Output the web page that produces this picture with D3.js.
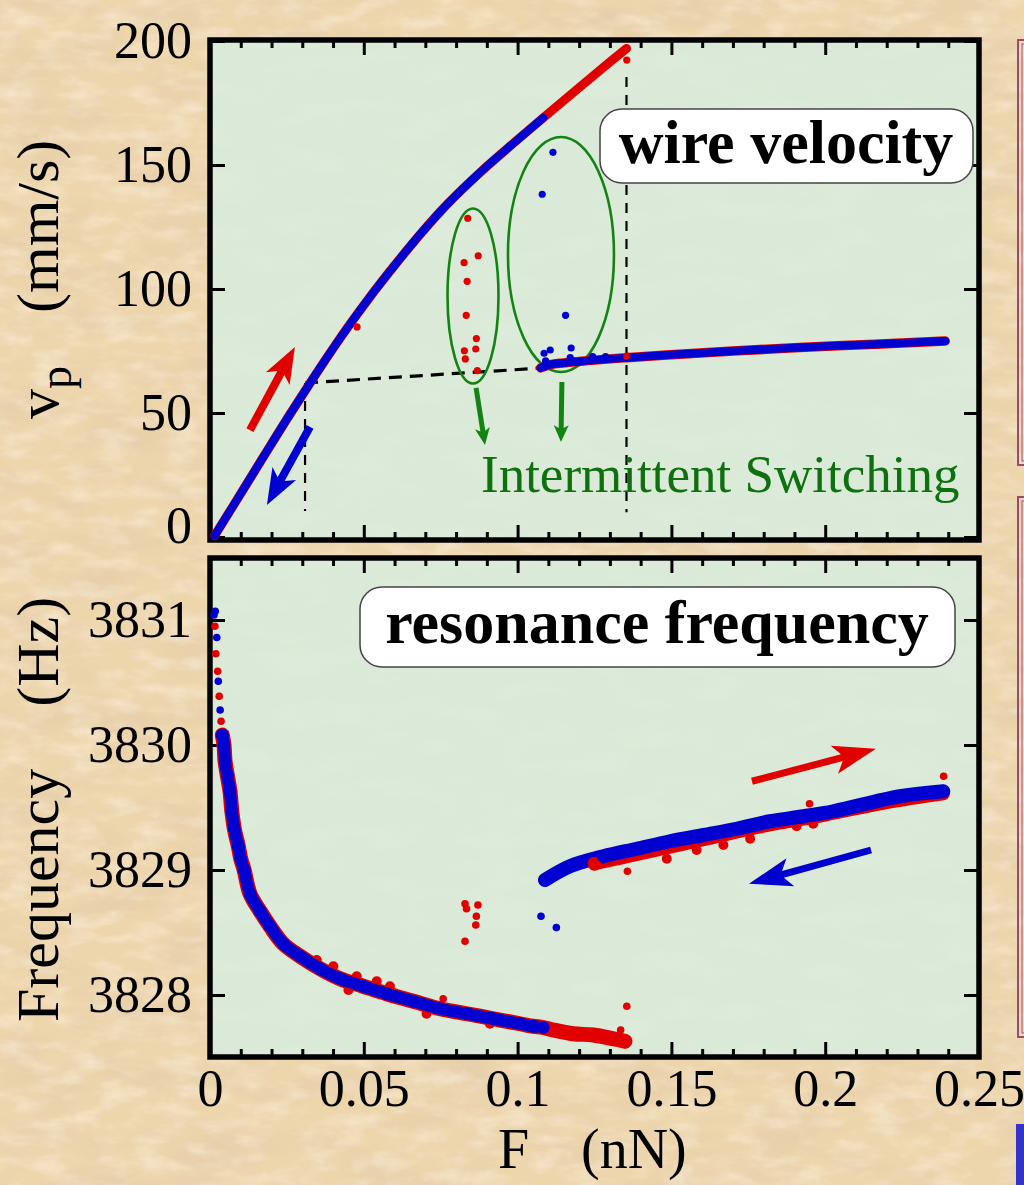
<!DOCTYPE html>
<html>
<head>
<meta charset="utf-8">
<script src="https://cdn.jsdelivr.net/npm/d3@7"></script>
<style>
  html, body { margin: 0; padding: 0; background: #efd9b1; }
  svg { display: block; font-family: 'Liberation Serif', 'Times New Roman', serif; }
</style>
</head>
<body>
<svg id="chart" width="1024" height="1185"></svg>
<script>
var forceMajor = [0, 0.05, 0.1, 0.15, 0.2, 0.25];
var forceLabels = ['0', '0.05', '0.1', '0.15', '0.2', '0.25'];
var forceMinor = [0.01, 0.02, 0.03, 0.04, 0.06, 0.07, 0.08, 0.09, 0.11, 0.12, 0.13, 0.14,
  0.16, 0.17, 0.18, 0.19, 0.21, 0.22, 0.23, 0.24];
var velocityTicks = [0, 50, 100, 150, 200];
var freqTicks = [3828, 3829, 3830, 3831];

// wire velocity, [F (nN), v (mm/s)]
var velUpRed = [[0.0015, 0.5], [0.0075, 12.5], [0.0172, 32.0], [0.026, 49.5], [0.0325, 62.0],
  [0.04, 76.0], [0.0455, 85.8], [0.052, 96.8], [0.06, 109.5], [0.0692, 123.3], [0.0769, 133.9],
  [0.0878, 147.0], [0.1, 160.2], [0.1083, 169.0], [0.12, 181.2], [0.13, 191.5], [0.1354, 197.0]];
var velDownBlue = [[0.0015, 0.5], [0.0075, 12.5], [0.0172, 32.0], [0.026, 49.5], [0.0325, 62.0],
  [0.04, 76.0], [0.0455, 85.8], [0.052, 96.8], [0.06, 109.5], [0.0692, 123.3], [0.0769, 133.9],
  [0.0878, 147.0], [0.1, 160.2], [0.1083, 169.0]];
var velLower = [[0.1075, 68.2], [0.11, 69.3], [0.115, 70.2], [0.12, 70.8], [0.1354, 72.3],
  [0.15, 73.5], [0.17, 75], [0.19, 76.3], [0.21, 77.4], [0.225, 78.2], [0.239, 79]];
var velRedDots = [[0.0838, 128.5], [0.0872, 113.4], [0.0826, 110.6], [0.0836, 103.1], [0.0833, 89.4],
  [0.0866, 80.0], [0.0864, 75.8], [0.0827, 75.1], [0.0830, 71.8], [0.0869, 67.1], [0.0478, 84.7],
  [0.1355, 73.0], [0.1355, 192.3]];
var velBlueDots = [[0.1115, 155.1], [0.1080, 138.2], [0.1156, 89.4], [0.1086, 74.1], [0.1106, 75.4],
  [0.1174, 76.2], [0.1171, 72.3], [0.1091, 71.0], [0.1244, 72.7], [0.1286, 72.7]];

// resonance frequency, [F (nN), f (Hz)]
var freqDecayBand = [[0.0040, 3830.08], [0.00455, 3830.0], [0.0049, 3829.87], [0.0056, 3829.76],
  [0.0065, 3829.63], [0.0071, 3829.47], [0.0079, 3829.33], [0.0092, 3829.19], [0.0100, 3829.09],
  [0.0111, 3829.0], [0.0130, 3828.81], [0.0163, 3828.67], [0.0195, 3828.55], [0.0238, 3828.41],
  [0.0293, 3828.31], [0.0358, 3828.21], [0.0423, 3828.13], [0.0498, 3828.07], [0.0574, 3828.01],
  [0.0661, 3827.95], [0.0748, 3827.89], [0.0835, 3827.85], [0.0921, 3827.81], [0.1008, 3827.77],
  [0.1051, 3827.75], [0.1083, 3827.74]];
var freqRedTail = [[0.1083, 3827.74], [0.1116, 3827.72], [0.1181, 3827.69], [0.1246, 3827.68],
  [0.1311, 3827.65], [0.1349, 3827.63]];
var freqBlueUpper = [[0.1089, 3828.92], [0.1170, 3829.03], [0.1279, 3829.11], [0.1387, 3829.17],
  [0.1495, 3829.23], [0.1604, 3829.28], [0.1712, 3829.33], [0.1821, 3829.39], [0.1929, 3829.43],
  [0.2026, 3829.47], [0.2243, 3829.59], [0.2384, 3829.63]];
var freqRedUpper = [[0.125, 3829.05], [0.14, 3829.13], [0.16, 3829.24], [0.18, 3829.35],
  [0.2, 3829.44], [0.22, 3829.54], [0.2384, 3829.61]];
var freqRedFringe = [[0.0347, 3828.28], [0.0401, 3828.23], [0.0477, 3828.15], [0.0542, 3828.11],
  [0.0585, 3828.07], [0.045, 3828.04], [0.0704, 3827.85], [0.091, 3827.77], [0.1485, 3829.09],
  [0.1582, 3829.16], [0.1669, 3829.2], [0.1756, 3829.25], [0.1907, 3829.35], [0.1961, 3829.37]];
var freqRedDots = [[0.0016, 3830.95], [0.0019, 3830.73], [0.0025, 3830.59], [0.0030, 3830.39],
  [0.0036, 3830.19], [0.0829, 3828.73], [0.0834, 3828.69], [0.0871, 3828.72], [0.0866, 3828.63],
  [0.0864, 3828.56], [0.0829, 3828.43], [0.1355, 3827.91], [0.1357, 3828.99], [0.2385, 3829.75],
  [0.1949, 3829.53], [0.0758, 3827.97], [0.1335, 3827.72]];
var freqBlueDots = [[0.0017, 3831.07], [0.0013, 3831.04], [0.0022, 3830.86], [0.0027, 3830.51],
  [0.0033, 3830.28], [0.1076, 3828.63], [0.1126, 3828.54]];

var svg = d3.select('#chart'),
  W = 1024,
  H = 1185,
  red = '#e00000',
  blue = '#0000d0',
  green = '#138413',
  x = d3.scaleLinear().domain([0, 0.25]).range([210, 979]),
  yV = d3.scaleLinear().domain([0, 200]).range([537, 41]),
  yF = d3.scaleLinear().domain([3827.5, 3831.5]).range([1057.5, 557.5]),
  pTop = {y0: 40, y1: 540},
  pBot = {y0: 558, y1: 1057};

var defs = svg.append('defs');

function noiseFilter(id, freq, seed, rgb, a, b) {
  var f = defs.append('filter').attr('id', id)
    .attr('x', 0).attr('y', 0).attr('width', '100%').attr('height', '100%');
  f.append('feTurbulence').attr('type', 'fractalNoise').attr('baseFrequency', freq)
    .attr('numOctaves', 4).attr('seed', seed);
  f.append('feColorMatrix').attr('type', 'matrix')
    .attr('values', '0 0 0 0 ' + rgb[0] + ' 0 0 0 0 ' + rgb[1] + ' 0 0 0 0 ' + rgb[2] + ' ' + a + ' 0 0 0 ' + b);
}
noiseFilter('paper', '0.012 0.03', 7, [0.74, 0.58, 0.40], 1.1, -0.45);
noiseFilter('paperLight', '0.03 0.07', 3, [1, 0.96, 0.86], 0.9, -0.38);
noiseFilter('mint', '0.015 0.04', 11, [0.80, 0.86, 0.78], 1.0, -0.45);

svg.append('rect').attr('width', W).attr('height', H).attr('fill', '#edd5ac');
svg.append('rect').attr('width', W).attr('height', H).attr('filter', 'url(#paper)');
svg.append('rect').attr('width', W).attr('height', H).attr('filter', 'url(#paperLight)');

// side panels of the slide
[[40, 465], [497, 1037]].forEach(function (p) {
  svg.append('rect').attr('x', 1018).attr('y', p[0]).attr('width', 30).attr('height', p[1] - p[0])
    .attr('fill', 'none').attr('stroke', '#9c4a74').attr('stroke-width', 2);
  svg.append('rect').attr('x', 1022).attr('y', p[0] + 4).attr('width', 30).attr('height', p[1] - p[0] - 8)
    .attr('fill', 'none').attr('stroke', '#b0648a').attr('stroke-width', 1.2);
});
svg.append('rect').attr('x', 1016).attr('y', 1124).attr('width', 10).attr('height', 61).attr('fill', '#3333cc');

// plot backgrounds
[pTop, pBot].forEach(function (p) {
  svg.append('rect').attr('x', x(0)).attr('y', p.y0).attr('width', x(0.25) - x(0)).attr('height', p.y1 - p.y0)
    .attr('fill', '#dbead8');
  svg.append('rect').attr('x', x(0)).attr('y', p.y0).attr('width', x(0.25) - x(0)).attr('height', p.y1 - p.y0)
    .attr('filter', 'url(#mint)').attr('opacity', 0.5);
});

function styleAxis(g) {
  g.select('.domain').remove();
  g.selectAll('.tick line').attr('stroke', '#000').attr('stroke-width', 3);
  g.selectAll('.tick text').attr('fill', '#000').attr('font-family', 'Liberation Serif')
    .attr('font-size', 52);
}

function frameTicks(p, yScale, yTicks, labels) {
  var gx = [['bottom', p.y1], ['top', p.y0]];
  gx.forEach(function (s) {
    var mk = s[0] === 'bottom' ? d3.axisBottom : d3.axisTop;
    svg.append('g').attr('transform', 'translate(0,' + s[1] + ')')
      .call(mk(x).tickValues(forceMinor).tickSize(-8).tickFormat('')).call(styleAxis);
    var major = svg.append('g').attr('transform', 'translate(0,' + s[1] + ')')
      .call(mk(x).tickValues(forceMajor).tickSize(-15).tickPadding(12)
        .tickFormat(function (d, i) { return (labels && s[0] === 'bottom') ? forceLabels[i] : ''; }))
      .call(styleAxis);
    major.selectAll('.tick text').attr('dy', '0.71em');
  });
  var left = svg.append('g').attr('transform', 'translate(' + x(0) + ',0)')
    .call(d3.axisLeft(yScale).tickValues(yTicks).tickSize(-15).tickPadding(18).tickFormat(d3.format('d')))
    .call(styleAxis);
  svg.append('g').attr('transform', 'translate(' + x(0.25) + ',0)')
    .call(d3.axisRight(yScale).tickValues(yTicks).tickSize(-15).tickFormat(''))
    .call(styleAxis);
  return left;
}

frameTicks(pTop, yV, velocityTicks, false)
  .selectAll('.tick text').filter(function (d) { return d === 0; }).attr('y', -11);
frameTicks(pBot, yF, freqTicks, true);

[pTop, pBot].forEach(function (p) {
  svg.append('rect').attr('x', x(0)).attr('y', p.y0).attr('width', x(0.25) - x(0)).attr('height', p.y1 - p.y0)
    .attr('fill', 'none').attr('stroke', '#000').attr('stroke-width', 5.5);
});

// ---- top panel: wire velocity
var gT = svg.append('g');
var lineV = d3.line().x(function (d) { return x(d[0]); }).y(function (d) { return yV(d[1]); })
  .curve(d3.curveMonotoneX);
var lineF = d3.line().x(function (d) { return x(d[0]); }).y(function (d) { return yF(d[1]); })
  .curve(d3.curveCatmullRom);

var dashLines = [
  {pts: [[0.0309, 62.1], [0.1073, 68.1]], w: 3.2, dash: '13,8'},
  {pts: [[0.0309, 62.1], [0.0309, 10.5]], w: 2.2, dash: '10,8'},
  {pts: [[0.1354, 185.5], [0.1354, 10]], w: 2.2, dash: '10,8'}
];
dashLines.forEach(function (l) {
  gT.append('path').attr('d', d3.line().x(function (d) { return x(d[0]); }).y(function (d) { return yV(d[1]); })(l.pts))
    .attr('fill', 'none').attr('stroke', '#000').attr('stroke-width', l.w).attr('stroke-dasharray', l.dash);
});

var ellipses = [[0.0855, 97.2, 25.5, 87.5], [0.1141, 113.9, 53, 117.5]];
gT.selectAll('ellipse').data(ellipses).enter().append('ellipse')
  .attr('cx', function (d) { return x(d[0]); }).attr('cy', function (d) { return yV(d[1]); })
  .attr('rx', function (d) { return d[2]; }).attr('ry', function (d) { return d[3]; })
  .attr('fill', 'none').attr('stroke', green).attr('stroke-width', 2.6);

gT.append('path').attr('d', lineV(velUpRed)).attr('fill', 'none').attr('stroke', red)
  .attr('stroke-width', 9).attr('stroke-linecap', 'round');
gT.append('path').attr('d', lineV(velDownBlue)).attr('fill', 'none').attr('stroke', blue)
  .attr('stroke-width', 8).attr('stroke-linecap', 'round');
gT.append('path').attr('d', lineV(velLower)).attr('fill', 'none').attr('stroke', red)
  .attr('stroke-width', 9.5).attr('stroke-linecap', 'round');
gT.append('path').attr('d', lineV(velLower)).attr('fill', 'none').attr('stroke', blue)
  .attr('stroke-width', 8).attr('stroke-linecap', 'round');

gT.selectAll('circle.r').data(velRedDots).enter().append('circle')
  .attr('cx', function (d) { return x(d[0]); }).attr('cy', function (d) { return yV(d[1]); })
  .attr('r', 3.6).attr('fill', red);
gT.selectAll('circle.b').data(velBlueDots).enter().append('circle')
  .attr('cx', function (d) { return x(d[0]); }).attr('cy', function (d) { return yV(d[1]); })
  .attr('r', 3.6).attr('fill', blue);

// ---- bottom panel: resonance frequency
var gB = svg.append('g');

function dots(g, data, color, r) {
  g.append('g').selectAll('circle').data(data).enter().append('circle')
    .attr('cx', function (d) { return x(d[0]); }).attr('cy', function (d) { return yF(d[1]); })
    .attr('r', r).attr('fill', color);
}

gB.append('path').attr('d', lineF(freqDecayBand.concat(freqRedTail.slice(1)))).attr('fill', 'none')
  .attr('stroke', red).attr('stroke-width', 15).attr('stroke-linecap', 'round').attr('stroke-linejoin', 'round');
gB.append('path').attr('d', lineF(freqRedUpper)).attr('fill', 'none')
  .attr('stroke', red).attr('stroke-width', 13).attr('stroke-linecap', 'round');
dots(gB, freqRedFringe, red, 5);
gB.append('path').attr('d', lineF(freqDecayBand)).attr('fill', 'none')
  .attr('stroke', blue).attr('stroke-width', 12).attr('stroke-linecap', 'round').attr('stroke-linejoin', 'round');
gB.append('path').attr('d', lineF(freqBlueUpper)).attr('fill', 'none')
  .attr('stroke', blue).attr('stroke-width', 14).attr('stroke-linecap', 'round');

dots(gB, freqRedTail.concat(freqRedUpper.slice(0, 1)), red, 7);
dots(gB, freqDecayBand.concat(freqBlueUpper), blue, 6.5);
dots(gB, freqRedDots, red, 3.8);
dots(gB, freqBlueDots, blue, 3.8);

// ---- arrows
function arrow(g, p1, p2, w, hl, hw, color) {
  var dx = p2[0] - p1[0], dy = p2[1] - p1[1], L = Math.sqrt(dx * dx + dy * dy),
    ux = dx / L, uy = dy / L, nx = -uy, ny = ux,
    bx = p2[0] - ux * hl, by = p2[1] - uy * hl, nb = hl * 0.18;
  var pts = [
    [p1[0] + nx * w / 2, p1[1] + ny * w / 2],
    [bx + ux * nb + nx * w / 2, by + uy * nb + ny * w / 2],
    [bx + nx * hw / 2, by + ny * hw / 2],
    p2,
    [bx - nx * hw / 2, by - ny * hw / 2],
    [bx + ux * nb - nx * w / 2, by + uy * nb - ny * w / 2],
    [p1[0] - nx * w / 2, p1[1] - ny * w / 2]
  ];
  g.append('polygon').attr('points', pts.map(function (p) { return p.join(','); }).join(' '))
    .attr('fill', color);
}
function pv(d) { return [x(d[0]), yV(d[1])]; }
function pf(d) { return [x(d[0]), yF(d[1])]; }

arrow(svg, pv([0.0130, 43.1]), pv([0.0276, 76.6]), 8, 36, 27, red);
arrow(svg, pv([0.0325, 44.4]), pv([0.0185, 12.9]), 8, 36, 27, blue);
arrow(svg, pf([0.1762, 3829.71]), pf([0.2165, 3829.97]), 7, 43, 29, red);
arrow(svg, pf([0.2149, 3829.16]), pf([0.1752, 3828.89]), 7, 43, 29, blue);
arrow(svg, pv([0.0865, 60.1]), pv([0.0894, 37.1]), 5, 17, 15, green);
arrow(svg, pv([0.1144, 62.5]), pv([0.1141, 38.3]), 5, 17, 15, green);

// ---- labels
function tagBox(x0, y0, x1, y1, label, cx, base) {
  svg.append('rect').attr('x', x0).attr('y', y0).attr('width', x1 - x0).attr('height', y1 - y0)
    .attr('rx', 22).attr('fill', '#fff').attr('stroke', '#444').attr('stroke-width', 1.5);
  svg.append('text').attr('x', cx).attr('y', base).attr('text-anchor', 'middle')
    .attr('font-size', 62).attr('font-weight', 'bold').text(label);
}
tagBox(600, 109, 973, 183, 'wire velocity', 786, 163);
tagBox(360, 587, 955, 667, 'resonance frequency', 657, 643);

svg.append('text').attr('x', 481).attr('y', 492).attr('font-size', 53).attr('fill', '#0e700e')
  .text('Intermittent Switching');

var yl = svg.append('text').attr('transform', 'translate(58,419) rotate(-90)').attr('font-size', 60);
yl.append('tspan').text('v');
yl.append('tspan').attr('font-size', 46).attr('dy', 13).text('p');
yl.append('tspan').attr('dy', -13).attr('dx', 53).text('(mm/s)');

var fl = svg.append('text').attr('transform', 'translate(58,1022) rotate(-90)').attr('font-size', 60);
fl.append('tspan').text('Frequency');
fl.append('tspan').attr('dx', 62).text('(Hz)');

svg.append('text').attr('x', 498).attr('y', 1168).attr('font-size', 56).text('F');
svg.append('text').attr('x', 581).attr('y', 1168).attr('font-size', 56).text('(nN)');
</script>
</body>
</html>
